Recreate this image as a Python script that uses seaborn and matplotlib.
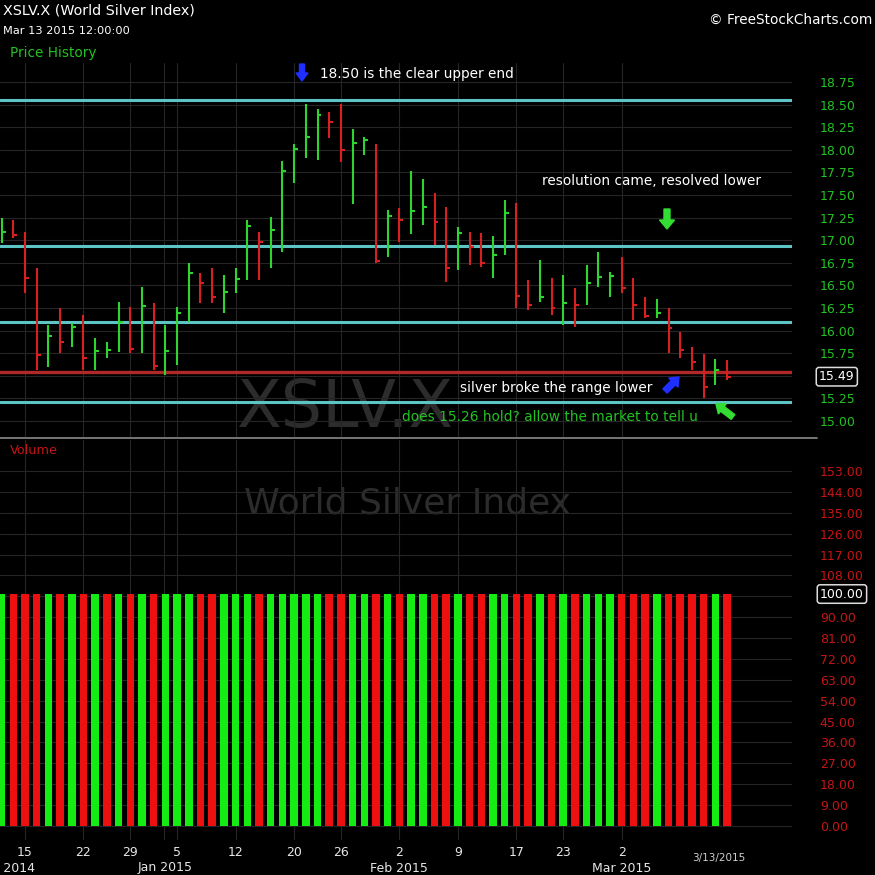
import numpy as np
import pandas as pd
import matplotlib
matplotlib.use("Agg")
import matplotlib.pyplot as plt
import matplotlib.transforms as mtransforms
from matplotlib.patches import FancyArrow
from matplotlib.lines import Line2D
import seaborn as sns

# ---------------- data ----------------
holidays = ["2014-12-25", "2015-01-01", "2015-01-19", "2015-02-16"]
dates = [d for d in pd.bdate_range("2014-12-11", "2015-03-13") if d.strftime("%Y-%m-%d") not in holidays]

highs = [17.25, 17.22, 17.09, 16.69, 16.06, 16.25, 16.08, 16.17, 15.92, 15.87,
         16.32, 16.26, 16.48, 16.30, 16.06, 16.26, 16.75, 16.64, 16.69, 16.61,
         16.69, 17.22, 17.09, 17.26, 17.88, 18.06, 18.51, 18.45, 18.42, 18.51,
         18.23, 18.14, 18.06, 17.33, 17.36, 17.77, 17.68, 17.52, 17.37, 17.15,
         17.09, 17.08, 17.05, 17.45, 17.41, 16.56, 16.78, 16.58, 16.61, 16.47,
         16.73, 16.87, 16.65, 16.81, 16.58, 16.37, 16.35, 16.25, 15.98, 15.82,
         15.74, 15.69, 15.67]
lows = [16.97, 17.02, 16.42, 15.56, 15.60, 15.75, 15.82, 15.56, 15.56, 15.70,
        15.76, 15.75, 15.75, 15.56, 15.51, 15.62, 16.10, 16.31, 16.31, 16.20,
        16.42, 16.56, 16.56, 16.69, 16.87, 17.63, 17.91, 17.89, 18.13, 17.87,
        17.40, 17.94, 16.75, 16.81, 16.98, 17.07, 17.17, 16.95, 16.54, 16.67,
        16.73, 16.70, 16.58, 16.84, 16.25, 16.23, 16.32, 16.17, 16.06, 16.04,
        16.28, 16.48, 16.37, 16.42, 16.12, 16.14, 16.14, 15.75, 15.70, 15.56,
        15.25, 15.40, 15.45]
closes = [17.09, 17.06, 16.58, 15.73, 15.94, 15.87, 16.04, 15.70, 15.77, 15.79,
          16.10, 15.80, 16.27, 15.61, 15.77, 16.20, 16.64, 16.53, 16.37, 16.43,
          16.57, 17.16, 16.98, 17.11, 17.77, 18.01, 18.14, 18.38, 18.31, 18.00,
          18.07, 18.11, 16.77, 17.27, 17.22, 17.32, 17.37, 17.20, 16.69, 17.08,
          16.93, 16.75, 16.84, 17.30, 16.38, 16.28, 16.37, 16.25, 16.30, 16.28,
          16.53, 16.59, 16.60, 16.47, 16.28, 16.16, 16.19, 16.03, 15.79, 15.65,
          15.38, 15.56, 15.49]
volume = [100] * 63
vol_dir = ["G", "R", "R", "R", "G", "R", "G", "R", "G", "R",
           "G", "R", "G", "R", "G", "G", "G", "R", "R", "G",
           "G", "G", "R", "G", "G", "G", "G", "G", "R", "R",
           "G", "G", "R", "G", "R", "G", "G", "R", "R", "G",
           "R", "R", "G", "G", "R", "R", "G", "R", "G", "R",
           "G", "G", "G", "R", "R", "R", "G", "R", "R", "R",
           "R", "G", "R"]

cyan_levels = [18.55, 16.94, 16.09, 15.21]
red_level = 15.54
last_price = "15.49"
last_volume = "100.00"

price_ticks = [15.00, 15.25, 15.50, 15.75, 16.00, 16.25, 16.50, 16.75,
               17.00, 17.25, 17.50, 17.75, 18.00, 18.25, 18.50, 18.75]
vol_ticks = [0, 9, 18, 27, 36, 45, 54, 63, 72, 81, 90, 99, 108, 117, 126, 135, 144, 153]

day_tick_dates = ["2014-12-15", "2014-12-22", "2014-12-29", "2015-01-05", "2015-01-12",
                  "2015-01-20", "2015-01-26", "2015-02-02", "2015-02-09", "2015-02-17",
                  "2015-02-23", "2015-03-02"]
day_tick_labels = ["15", "22", "29", "5", "12", "20", "26", "2", "9", "17", "23", "2"]
month_dates = ["2015-01-02", "2015-02-02", "2015-03-02"]
month_labels = ["Jan 2015", "Feb 2015", "Mar 2015"]

# ---------------- style ----------------
sns.set_theme(style="dark", rc={"axes.facecolor": "none", "figure.facecolor": "black",
                                "savefig.facecolor": "black"})
plt.rcParams["font.family"] = ["DejaVu Sans"]

W = 875.0
def fx(px):
    return px / W
def fy(py):
    return 1 - py / W

date_str = [d.strftime("%Y-%m-%d") for d in dates]
idx = np.arange(len(dates))
df = pd.DataFrame({"i": idx, "high": highs, "low": lows, "close": closes,
                   "volume": volume, "dir": vol_dir})
prev = np.r_[closes[0] - 1, closes[:-1]]
up = np.array(closes) > prev
GREEN_P, RED_P = "#2fd52f", "#d92020"
pcolors = [GREEN_P if u else RED_P for u in up]

fig = plt.figure(figsize=(8.75, 8.75), dpi=100)
axp = fig.add_axes([0, fy(437), fx(792), (437 - 63) / W])
axv = fig.add_axes([0, fy(840), fx(792), 400 / W])

px_per_bar = 11.7
x0 = 1.6
xlim = (-x0 / px_per_bar, (792 - x0) / px_per_bar)

GRID = "#252525"

# watermark
fig.text(fx(345), fy(409), "XSLV.X", color="#2c2c2c", fontsize=47, ha="center", va="center",
         family=["Liberation Sans Narrow", "DejaVu Sans"], zorder=-1)
fig.text(fx(408), fy(503), "World Silver Index", color="#2c2c2c", fontsize=26,
         ha="center", va="center", zorder=-1)

# ---------------- price panel ----------------
axp.set_xlim(*xlim)
axp.set_ylim(14.823, 18.96)
for t in price_ticks:
    axp.axhline(t, color=GRID, lw=0.8, zorder=0)
tick_pos = [date_str.index(d) for d in day_tick_dates]
jan_line = date_str.index("2015-01-02") - 0.15
for ax in (axp, axv):
    for p in tick_pos + [jan_line]:
        ax.axvline(p, color=GRID, lw=0.8, zorder=0)

for lv in cyan_levels:
    axp.axhline(lv, color="#5cc4c4", lw=2.2, zorder=1)
axp.axhline(red_level, color="#b02828", lw=2.4, zorder=1)

axp.vlines(df["i"], df["low"], df["high"], colors=pcolors, lw=1.5, zorder=3)
axp.hlines(df["close"], df["i"], df["i"] + 0.34, colors=pcolors, lw=1.5, zorder=3)

axp.yaxis.tick_right()
axp.set_yticks(price_ticks)
axp.set_yticklabels(["" if abs(t - 15.5) < 1e-9 else f"{t:.2f}" for t in price_ticks])
axp.tick_params(axis="y", colors="#22c322", labelsize=9, length=0, pad=20)
axp.set_xticks([])
for s in axp.spines.values():
    s.set_visible(False)
axp.grid(False)
axp.text(1 + 27 / 792, float(last_price), last_price,
         transform=mtransforms.blended_transform_factory(axp.transAxes, axp.transData),
         color="white", fontsize=9, ha="left", va="center",
         bbox=dict(boxstyle="round,pad=0.22", fc="black", ec="#dddddd", lw=1.1))

# ---------------- volume panel ----------------
sns.barplot(data=df, x="i", y="volume", hue="dir", palette={"G": "#14ec14", "R": "#ec1010"},
            native_scale=True, dodge=False, width=0.64, saturation=1, legend=False,
            edgecolor="none", linewidth=0, ax=axv, zorder=2)
axv.set_xlim(*xlim)
axv.set_ylim(-6.03, 166.4)
for t in vol_ticks:
    axv.axhline(t, color=GRID, lw=0.8, zorder=0)
axv.yaxis.tick_right()
axv.set_yticks(vol_ticks)
axv.set_yticklabels(["" if t == 99 else f"{t:.2f}" for t in vol_ticks])
axv.tick_params(axis="y", colors="#c41515", labelsize=9, length=0, pad=20)
axv.set_xticks(tick_pos)
axv.set_xticklabels(day_tick_labels)
axv.tick_params(axis="x", colors="#e6e6e6", labelsize=9, length=0, pad=4)
axv.set_xlabel("")
axv.set_ylabel("")
for s in axv.spines.values():
    s.set_visible(False)
axv.grid(False)
axv.text(1 + 28 / 792, float(last_volume), last_volume,
         transform=mtransforms.blended_transform_factory(axv.transAxes, axv.transData),
         color="white", fontsize=9, ha="left", va="center",
         bbox=dict(boxstyle="round,pad=0.22", fc="black", ec="#dddddd", lw=1.1))

xt = axv.get_xaxis_transform()
for d, lab in zip(month_dates, month_labels):
    axv.text(date_str.index(d), -0.07, lab, transform=xt, color="#e6e6e6", fontsize=9,
             ha="center", va="center", clip_on=False)
axv.text((5 - x0) / px_per_bar, -0.07, "Dec 2014", transform=xt, color="#e6e6e6",
         fontsize=9, ha="center", va="center", clip_on=False)
axv.text(len(dates) - 1 - 0.7, -0.045, dates[-1].strftime("%-m/%-d/%Y"), transform=xt,
         color="#cfcfcf", fontsize=7.5, ha="center", va="center", clip_on=False)

# ---------------- header / labels ----------------
fig.text(fx(3), fy(11), "XSLV.X (World Silver Index)", color="white", fontsize=10.3,
         ha="left", va="center")
fig.text(fx(3), fy(31), "Mar 13 2015 12:00:00", color="white", fontsize=8.2,
         ha="left", va="center")
fig.text(fx(10), fy(53), "Price History", color="#22c322", fontsize=9.8, ha="left", va="center")
fig.text(fx(872), fy(20), "© FreeStockCharts.com", color="white", fontsize=9.8,
         ha="right", va="center")
fig.text(fx(10), fy(451), "Volume", color="#c41515", fontsize=9.3, ha="left", va="center")
fig.add_artist(Line2D([0, fx(817)], [fy(438), fy(438)], color="#8a8a8a", lw=1.2,
                      transform=fig.transFigure))

# annotations
fig.text(fx(320), fy(74), "18.50 is the clear upper end", color="white", fontsize=9.8,
         ha="left", va="center")
fig.text(fx(542), fy(181), "resolution came, resolved lower", color="white", fontsize=9.8,
         ha="left", va="center")
fig.text(fx(460), fy(388), "silver broke the range lower", color="white", fontsize=9.8,
         ha="left", va="center")
fig.text(fx(402), fy(417), "does 15.26 hold? allow the market to tell u", color="#22c322",
         fontsize=9.9, ha="left", va="center")

def arrow(tail, head, color, w, hw, hl):
    (x1, y1), (x2, y2) = tail, head
    fig.add_artist(FancyArrow(fx(x1), fy(y1), fx(x2) - fx(x1), fy(y2) - fy(y1),
                              width=w / W, head_width=hw / W, head_length=hl / W,
                              length_includes_head=True, color=color,
                              transform=fig.transFigure))

arrow((302, 64), (302, 81), "#1f2fff", 5, 12, 8)
arrow((667, 209), (667, 229), "#33dd33", 6, 15, 9)
arrow((665, 391), (679, 377), "#1f2fff", 6, 13, 8)
arrow((733, 417), (716, 404), "#33dd33", 6, 13, 8)

fig.savefig("out.png", dpi=100, facecolor="black")
